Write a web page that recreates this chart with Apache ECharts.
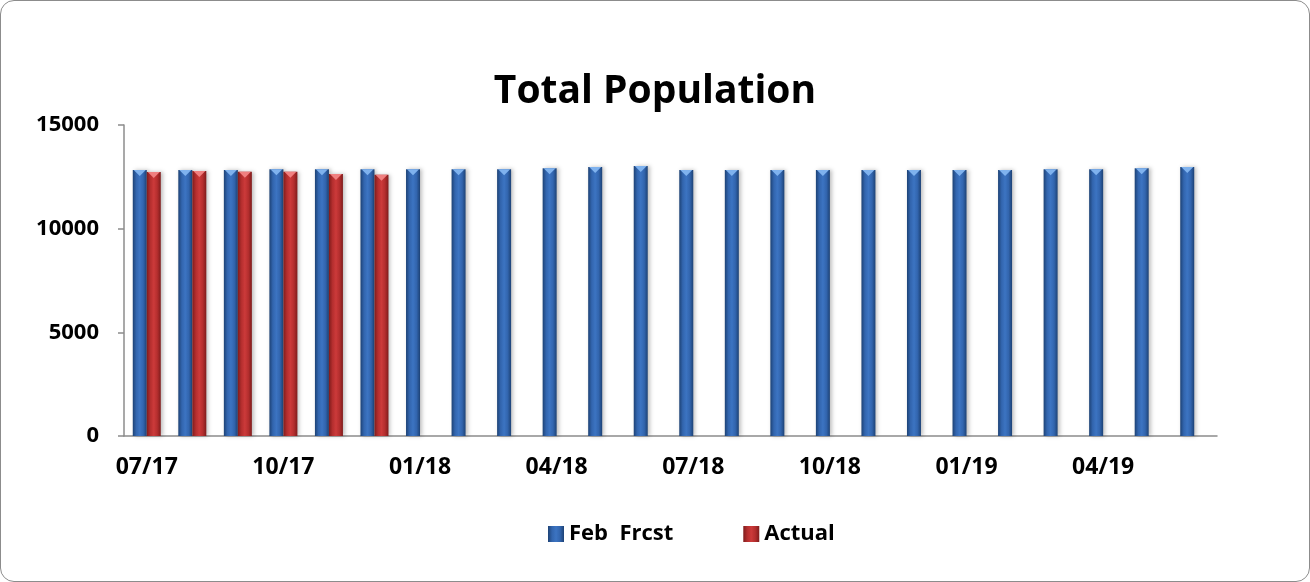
<!DOCTYPE html>
<html>
<head>
<meta charset="utf-8">
<script src="https://cdn.jsdelivr.net/npm/echarts@6/dist/echarts.min.js"></script>
<style>
  body { margin: 0; background: #fff; }
  #frame { width: 1308px; height: 580px; border: 1px solid #8c8c8c; border-radius: 14px; overflow: hidden; }
  #chart { width: 1308px; height: 580px; }
</style>
</head>
<body>
<div id="frame"><div id="chart"></div></div>
<script>
const months = ['07/17', '08/17', '09/17', '10/17', '11/17', '12/17',
  '01/18', '02/18', '03/18', '04/18', '05/18', '06/18',
  '07/18', '08/18', '09/18', '10/18', '11/18', '12/18',
  '01/19', '02/19', '03/19', '04/19', '05/19', '06/19']
const febFrcst = [12830, 12830, 12830, 12870, 12870, 12870,
  12870, 12870, 12870, 12910, 12970, 13020,
  12830, 12830, 12830, 12830, 12830, 12830,
  12830, 12830, 12870, 12870, 12920, 12970]
const actual = [12730, 12780, 12740, 12740, 12640, 12600,
  null, null, null, null, null, null,
  null, null, null, null, null, null,
  null, null, null, null, null, null]
const yTicks = [0, 5000, 10000, 15000]

const FONT = 'Open Sans'

function barGradient (edge, mid, light) {
  return new echarts.graphic.LinearGradient(0, 0, 1, 0, [
    { offset: 0, color: edge },
    { offset: 0.25, color: mid },
    { offset: 0.5, color: light },
    { offset: 0.75, color: mid },
    { offset: 1, color: edge }
  ])
}

// small bevel triangle on top of each bar
function bevel (data, color, dx) {
  return {
    type: 'pictorialBar',
    data: data,
    symbol: 'triangle',
    symbolRotate: 180,
    symbolSize: [12, 6],
    symbolPosition: 'end',
    symbolOffset: [dx, 0],
    itemStyle: { color: color },
    z: 3,
    silent: true
  }
}

let chart = echarts.init(document.getElementById('chart'))
let option = {
  animation: false,
  title: {
    text: 'Total Population',
    left: 'center',
    top: 66,
    textStyle: { fontFamily: FONT, fontSize: 39, fontWeight: 'bold', color: '#000' }
  },
  legend: {
    bottom: 31,
    left: 542,
    itemGap: 70,
    itemWidth: 16,
    itemHeight: 16,
    icon: 'rect',
    textStyle: { fontFamily: FONT, fontSize: 22, fontWeight: 'bold', color: '#000' },
    data: ['Feb  Frcst', 'Actual']
  },
  grid: { left: 123, right: 92, top: 124, bottom: 145 },
  xAxis: {
    type: 'category',
    data: months,
    boundaryGap: true,
    axisLine: { lineStyle: { color: '#8c8c8c', width: 1.5 } },
    axisTick: { interval: 2, length: 8, lineStyle: { color: '#8c8c8c', width: 1.5 } },
    axisLabel: {
      interval: 2,
      margin: 20,
      fontFamily: FONT,
      fontSize: 23,
      fontWeight: 'bold',
      color: '#000'
    }
  },
  yAxis: {
    type: 'value',
    min: yTicks[0],
    max: yTicks[yTicks.length - 1],
    interval: 5000,
    splitLine: { show: false },
    axisLine: { show: true, lineStyle: { color: '#8c8c8c', width: 1.5 } },
    axisTick: { show: true, length: 6, lineStyle: { color: '#8c8c8c', width: 1.5 } },
    axisLabel: {
      margin: 25,
      fontFamily: FONT,
      fontSize: 22,
      fontWeight: 'bold',
      color: '#000',
      formatter: v => String(v)
    }
  },
  series: [
    {
      name: 'Feb  Frcst',
      type: 'bar',
      data: febFrcst,
      barWidth: 14,
      barGap: '0%',
      itemStyle: {
        color: barGradient('#1d4275', '#3265ae', '#3c74c2'),
        shadowColor: 'rgba(0,0,0,0.25)',
        shadowBlur: 4,
        shadowOffsetX: 2
      }
    },
    {
      name: 'Actual',
      type: 'bar',
      data: actual,
      barWidth: 14,
      itemStyle: {
        color: barGradient('#7f1c1c', '#b42e2e', '#cc3a3a'),
        shadowColor: 'rgba(0,0,0,0.25)',
        shadowBlur: 4,
        shadowOffsetX: 2
      }
    },
    bevel(febFrcst, '#7fb2ee', -7),
    bevel(actual, '#f08080', 7)
  ]
}
chart.setOption(option)
</script>
</body>
</html>
